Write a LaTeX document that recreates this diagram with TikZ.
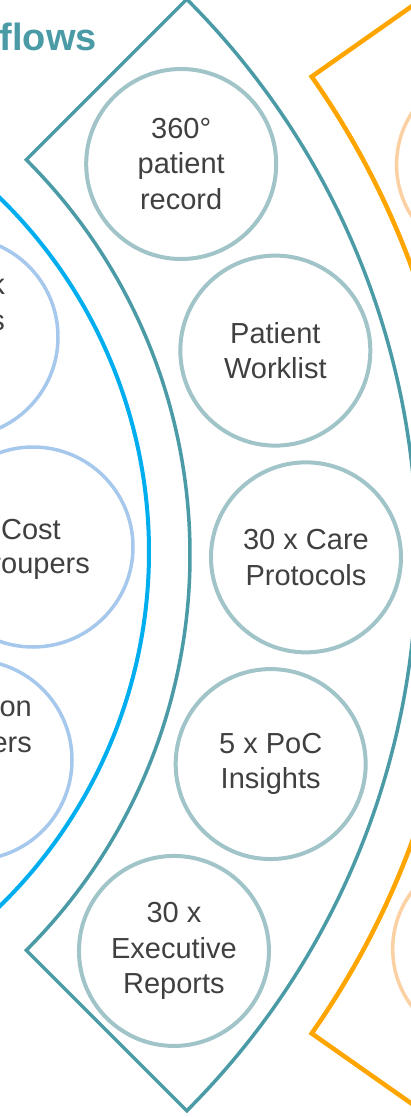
\documentclass[tikz,border=0pt]{standalone}
\usepackage{fontspec}
\setmainfont{Liberation Sans}
\usepackage{tikz}
\usetikzlibrary{positioning}
\usepackage{xcolor}

\definecolor{tealline}{HTML}{4A9BA6}
\definecolor{tealcirc}{HTML}{A0C4C8}
\definecolor{blueline}{HTML}{00AEEF}
\definecolor{bluecirc}{HTML}{A6C8EC}
\definecolor{orangeline}{HTML}{FFA500}
\definecolor{orangecirc}{HTML}{FBD0A3}
\definecolor{txt}{HTML}{404040}

\begin{document}
\begin{tikzpicture}[x=1pt, y=-1pt,
    font=\fontsize{29}{35.5}\selectfont,
    item/.style={circle, draw=tealcirc, line width=4pt, minimum size=190pt,
        inner sep=0pt, align=center, text=txt},
    blueitem/.style={item, draw=bluecirc, line width=3.5pt, minimum size=200pt},
    orangeitem/.style={item, draw=orangecirc, line width=3.5pt},
    part/.style={inner sep=0pt, text=txt}]
\useasboundingbox (0,0) rectangle (411,1117);
\clip (0,0) rectangle (411,1117);

\node[anchor=base east, inner sep=0pt, text=tealline,
    font=\fontsize{38}{44}\selectfont\bfseries] (title) at (97,50) {flows};

% inner ring
\begin{scope}[shift={(-346,552)}]
    \draw[blueline, line width=4pt] (-55:495) arc[start angle=-55, end angle=55, radius=495];
\end{scope}
\node[blueitem] (risk) at (-42,337) {};
\node[blueitem] (cost) at (33,547) {};
\node[blueitem] (deci) at (-28,760) {};
\node[part, anchor=base east, align=right] (risktxt) at (5,330) {k\\s};
\node[part, anchor=base] (costtxt) at (31,539) {Cost};
\node[part, anchor=base east] (grouptxt) at (90,573) {roupers};
\node[part, anchor=base east, align=right] (decitxt) at (32,752) {on\\ers};

% middle ring with its five items
\begin{scope}[shift={(-369,555)}]
    \draw[tealline, line width=3.5pt, line join=miter]
        (-45:559) -- (-45:786) arc[start angle=-45, end angle=45, radius=786]
        -- (45:559) arc[start angle=45, end angle=-45, radius=559] -- cycle;
    \node[item] (record) at (-35.4:675) {360°\\patient\\record};
    \node[item] (worklist) at (-17.6:676) {Patient\\Worklist};
    \node[item] (protocols) at (0.2:675) {30 x Care\\Protocols};
    \node[item] (insights) at (18.1:673) {5 x PoC\\Insights};
    \node[item] (reports) at (36.1:672) {30 x\\Executive\\Reports};

    % outer ring
    \draw[orangeline, line width=4.5pt, line join=miter]
        (-35.1:1150) -- (-35.1:832) arc[start angle=-35.1, end angle=35.1, radius=832]
        -- (35.1:1150);
    \node[orangeitem] (otop) at (-24.4:945) {};
    \node[orangeitem] (obot) at (24.7:943) {};
\end{scope}
\end{tikzpicture}
\end{document}
